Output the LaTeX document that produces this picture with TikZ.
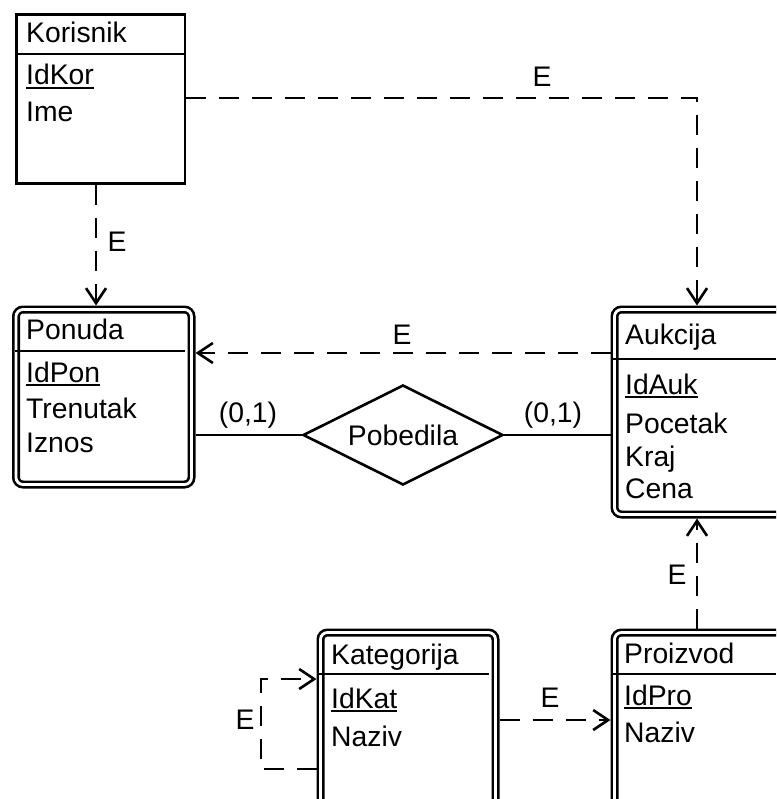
\documentclass[tikz,border=0pt]{standalone}
\usepackage{fontspec}
\setmainfont{Liberation Sans}
\usetikzlibrary{arrows.meta,shapes.geometric}
\newcommand\myul[1]{\setbox0\hbox{#1}\rlap{\rule[-4.2pt]{\wd0}{2.2pt}}#1}
\tikzset{
  lw/.style={line width=2.6pt},
  ent/.style={draw, lw, double, double distance=2.8pt, rounded corners=7pt,
    inner sep=0pt, outer sep=4pt, anchor=north west},
  plainent/.style={draw, lw, inner sep=0pt, outer sep=1.3pt, anchor=north west},
  txt/.style={inner sep=0pt, anchor=base west, font=\fontsize{28.3}{32}\selectfont},
  lbl/.style={inner sep=0pt, font=\fontsize{28.3}{32}\selectfont},
  dep/.style={lw, dash pattern=on 20pt off 13pt, -{Straight Barb[length=15pt,width=20pt]}},
  rel/.style={draw, lw, diamond, shape aspect=2, inner sep=0pt, minimum width=200pt, minimum height=100pt,
    font=\fontsize{28.3}{32}\selectfont},
}
\begin{document}
\begin{tikzpicture}[x=1pt,y=-1pt]
\useasboundingbox (0,0) rectangle (776,799);
\clip (0,0) rectangle (776,799);
% entities
\node[plainent, minimum width=168.5pt, minimum height=168.5pt] (kor) at (15,13.5) {};
\node[ent, minimum width=175.5pt, minimum height=175pt] (pon) at (12,305.5) {};
\node[ent, minimum width=172pt, minimum height=205pt] (auk) at (610.5,305.5) {};
\node[ent, minimum width=172pt, minimum height=175pt] (pro) at (610.5,628.5) {};
\node[ent, minimum width=175pt, minimum height=175pt] (kat) at (316.5,628.5) {};
% header separators
\draw[lw] (15,54) -- (183.5,54);
\draw[lw] (15,351) -- (185,351);
\draw[lw] (613,359) -- (776,359);
\draw[lw] (613,674) -- (776,674);
\draw[lw] (319,674) -- (489,674);
% texts
\node[txt] (korT) at (26,43) {Korisnik};
\node[txt] (korA) at (26,85) {\myul{IdKor}};
\node[txt] (korB) at (26,122) {Ime};
\node[txt] (ponT) at (26,339) {Ponuda};
\node[txt] (ponA) at (26,382) {\myul{IdPon}};
\node[txt] (ponB) at (26,418) {Trenutak};
\node[txt] (ponC) at (26,452) {Iznos};
\node[txt] (aukT) at (625,344) {Aukcija};
\node[txt] (aukA) at (625,394) {\myul{IdAuk}};
\node[txt] (aukB) at (625,433) {Pocetak};
\node[txt] (aukC) at (625,466) {Kraj};
\node[txt] (aukD) at (625,498) {Cena};
\node[txt] (katT) at (331,664) {Kategorija};
\node[txt] (katA) at (331,708) {\myul{IdKat}};
\node[txt] (katB) at (331,746) {Naziv};
\node[txt] (proT) at (624,663) {Proizvod};
\node[txt] (proA) at (624,705) {\myul{IdPro}};
\node[txt] (proB) at (624,742) {Naziv};
% relationship
\node[rel] (pob) at (403,435) {Pobedila};
% helper coordinates
\coordinate (c96) at (96,0);
\coordinate (c98) at (0,98);
\coordinate (c697) at (697,0);
\coordinate (c353) at (0,353);
\coordinate (c720) at (0,720);
\coordinate (c769) at (0,769);
\coordinate (c679) at (0,679);
\coordinate (c261) at (261,0);
% connectors
\draw[dep] (kor.south -| c96) -- (pon.north -| c96);
\draw[dep] (kor.east |- c98) -- (c697 |- c98) -- (auk.north -| c697);
\draw[dep] (auk.west |- c353) -- (pon.east |- c353);
\draw[dep] (pro.north -| c697) -- (auk.south -| c697);
\draw[dep] (kat.east |- c720) -- (pro.west |- c720);
\draw[dep] (kat.west |- c769) -- (c261 |- c769) -- (c261 |- c679) -- (kat.west |- c679);
\draw[lw] (pon.east |- pob) -- (pob.west);
\draw[lw] (pob.east) -- (auk.west |- pob);
% labels
\node[lbl] (e1) at (542,77) {E};
\node[lbl] (e2) at (117,242) {E};
\node[lbl] (e3) at (402,335) {E};
\node[lbl] (e4) at (677,575) {E};
\node[lbl] (e5) at (550,698) {E};
\node[lbl] (e6) at (245,720) {E};
\node[lbl] (m1) at (248,415) {(0,1)};
\node[lbl] (m2) at (553,415) {(0,1)};
\end{tikzpicture}
\end{document}
